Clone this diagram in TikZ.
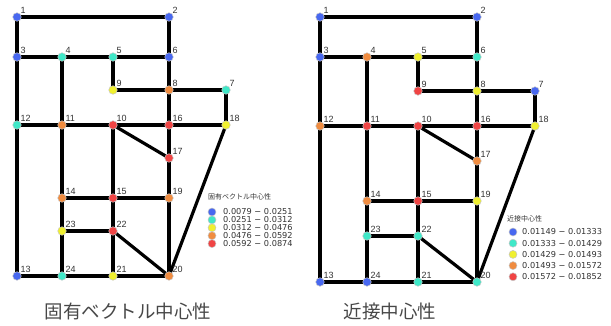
\documentclass[tikz,border=0pt]{standalone}
\usepackage{fontspec}
\newfontfamily\cjk{Noto Sans CJK JP}
\newfontfamily\numf{DejaVu Sans}
\newfontfamily\labf{Liberation Sans}
\usetikzlibrary{backgrounds}
\definecolor{cB}{RGB}{72,104,240}
\definecolor{cC}{RGB}{64,232,200}
\definecolor{cY}{RGB}{240,240,48}
\definecolor{cO}{RGB}{240,140,64}
\definecolor{cR}{RGB}{240,68,68}
\definecolor{txt}{RGB}{50,50,50}
\tikzset{
  vtx/.style={circle, draw=gray!45, line width=0.5pt, fill=#1, minimum size=8.5pt, inner sep=0pt},
  lvtx/.style={circle, draw=gray!45, line width=0.5pt, fill=#1, minimum size=8pt, inner sep=0pt},
  lab/.style={font=\labf\fontsize{9}{9}\selectfont, text=txt, inner sep=0.2pt},
  ed/.style={line width=3.2pt, black},
  legt/.style={font=\cjk\fontsize{7}{7}\selectfont, text=txt, anchor=west, inner sep=0pt},
  legv/.style={font=\numf\fontsize{8.2}{8.2}\selectfont, text=txt, anchor=west, inner sep=0pt},
  bigt/.style={font=\cjk\fontsize{18.5}{18.5}\selectfont, text=black!72}
}
\begin{document}
\begin{tikzpicture}[x=1pt,y=-1pt]
\useasboundingbox (0,0) rectangle (611,325);
% left graph nodes
\foreach \n/\x/\y/\c in {1/17/17/cB,2/169/17/cB,3/17/57/cB,4/62/57/cC,5/113/57/cC,6/169/57/cB,
  7/226/90/cC,8/169/90/cO,9/113/90/cY,10/113/125/cR,11/62/125/cO,12/17/125/cC,
  13/17/276/cB,14/62/198/cO,15/113/198/cR,16/169/125/cR,17/169/158/cR,18/226/125/cY,
  19/169/198/cO,20/169/276/cO,21/113/276/cY,22/113/231/cR,23/62/231/cY,24/62/276/cC}
  \node[vtx=\c] (a\n) at (\x,\y) [label={[lab]north east:\n}] {};
% right graph nodes
\foreach \n/\x/\y/\c in {1/320/17/cB,2/477/17/cB,3/320/57/cB,4/367/57/cO,5/418/57/cY,6/477/57/cC,
  7/535/91/cB,8/477/91/cY,9/418/91/cR,10/418/126/cR,11/367/126/cR,12/320/126/cO,
  13/320/282/cB,14/367/201/cO,15/418/201/cR,16/477/126/cR,17/477/161/cO,18/535/126/cY,
  19/477/201/cY,20/477/282/cC,21/418/282/cC,22/418/236/cC,23/367/236/cC,24/367/282/cB}
  \node[vtx=\c] (b\n) at (\x,\y) [label={[lab]north east:\n}] {};
% edges
\begin{scope}[on background layer]
\foreach \p in {a,b}{
  \foreach \u/\v in {1/2,1/3,2/6,3/4,4/5,5/6,3/12,4/11,5/9,6/8,9/8,8/7,7/18,8/16,
    12/11,11/10,10/16,16/18,10/17,16/17,18/20,12/13,11/14,10/15,17/19,14/15,15/19,
    14/23,15/22,19/20,23/22,22/20,23/24,22/21,13/24,24/21,21/20}
    \draw[ed] (\p\u.center) -- (\p\v.center);
}
\end{scope}
% left legend
\node[legt] (lt) at (208,197) {固有ベクトル中心性};
\foreach \i/\c/\t in {0/cB/0.0079 − 0.0251,1/cC/0.0251 − 0.0312,2/cY/0.0312 − 0.0476,3/cO/0.0476 − 0.0592,4/cR/0.0592 − 0.0874}{
  \node[lvtx=\c] (lc\i) at (212,{212+7.9*\i}) {};
  \node[legv] (lv\i) at (223,{212+7.9*\i}) {\t};
}
% right legend
\node[legt] (rt) at (507,219) {近接中心性};
\foreach \i/\c/\t in {0/cB/0.01149 − 0.01333,1/cC/0.01333 − 0.01429,2/cY/0.01429 − 0.01493,3/cO/0.01493 − 0.01572,4/cR/0.01572 − 0.01852}{
  \node[lvtx=\c] (rc\i) at (513,{232+11.2*\i}) {};
  \node[legv] (rv\i) at (522,{232+11.2*\i}) {\t};
}
% titles
\node[bigt] (t1) at (128,311) {固有ベクトル中心性};
\node[bigt] (t2) at (390,311) {近接中心性};
\end{tikzpicture}
\end{document}
